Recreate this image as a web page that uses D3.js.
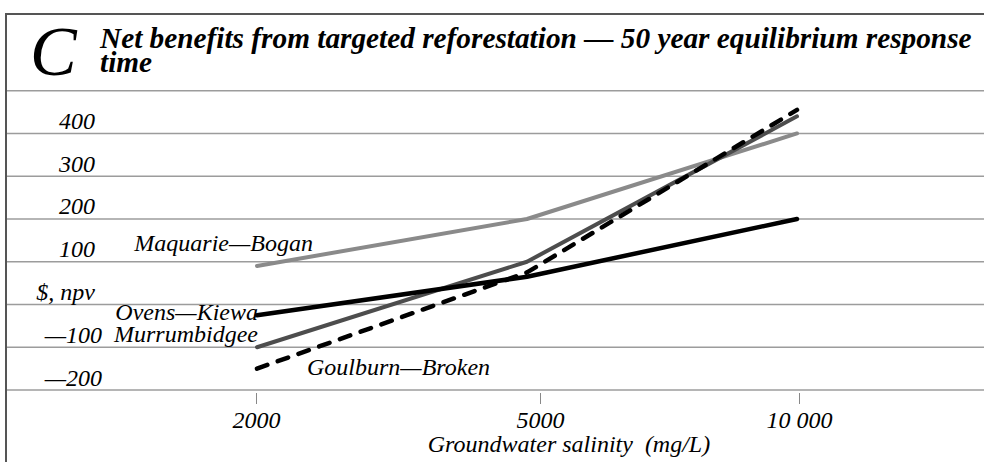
<!DOCTYPE html>
<html>
<head>
<meta charset="utf-8">
<script src="https://cdn.jsdelivr.net/npm/d3@7"></script>
<style>
  html, body { margin: 0; padding: 0; background: #fff; }
  svg { display: block; }
  text { font-family: "Liberation Serif", "Times New Roman", serif; font-style: italic; fill: #000; }
</style>
</head>
<body>
<div id="chart"></div>
<script>
// values
const salinity = ['2000', '5000', '10 000'];
const maquarieBogan = [90, 200, 400];
const ovensKiewa = [-25, 65, 200];
const murrumbidgee = [-100, 100, 440];
const goulburnBroken = [-150, 75, 455];
const gridValues = [500, 400, 300, 200, 100, 0, -100, -200];
const yTickValues = [400, 300, 200, 100, 0, -100, -200];
const yTickLabels = ['400', '300', '200', '100', '$, npv', '\u2014100', '\u2014200'];

const W = 984;
const H = 462;
const FS = 24;

const series = [
  { name: 'Maquarie\u2014Bogan', values: maquarieBogan, color: '#8a8a8a', width: 4, dash: null, lx: 56, ly: -15, anchor: 'end' },
  { name: 'Murrumbidgee', values: murrumbidgee, color: '#4d4d4d', width: 4, dash: null, lx: 1, ly: -5, anchor: 'end' },
  { name: 'Ovens\u2014Kiewa', values: ovensKiewa, color: '#000', width: 4.5, dash: null, lx: 1, ly: 5, anchor: 'end' },
  { name: 'Goulburn\u2014Broken', values: goulburnBroken, color: '#000', width: 4.5, dash: '11,11', lx: 50, ly: 6, anchor: 'start' },
];

const svg = d3.select('#chart').append('svg')
  .attr('width', W)
  .attr('height', H);

const x = d3.scalePoint().domain(salinity).range([257, 797]);
const xAxisScale = d3.scaleOrdinal().domain(salinity).range([256, 540, 799]);
const y = d3.scaleLinear().domain([-200, 500]).range([390, 90.7]);

// frame
svg.append('path')
  .attr('d', `M6,${H}V14H${W}`)
  .attr('fill', 'none')
  .attr('stroke', '#555')
  .attr('stroke-width', 2);

// gridlines
svg.append('g').selectAll('line')
  .data(gridValues)
  .join('line')
  .attr('x1', 7)
  .attr('x2', W)
  .attr('y1', (d) => y(d))
  .attr('y2', (d) => y(d))
  .attr('stroke', '#9c9c9c')
  .attr('stroke-width', 1.5);

// y labels sit just above their gridline
svg.append('g').selectAll('text')
  .data(yTickValues)
  .join('text')
  .attr('x', (d) => (d < 0 ? 102 : 95))
  .attr('y', (d) => y(d) - 4.5)
  .attr('text-anchor', 'end')
  .attr('font-size', FS)
  .text((d, i) => yTickLabels[i]);

// x axis ticks
const xAxis = d3.axisBottom(xAxisScale).tickSize(11).tickPadding(7);
const gx = svg.append('g')
  .attr('transform', `translate(0,${y(-200) + 3})`)
  .call(xAxis);
gx.select('.domain').remove();
gx.selectAll('.tick line').attr('stroke', '#888').attr('stroke-width', 1);
gx.selectAll('.tick text')
  .attr('font-size', FS)
  .attr('font-family', '"Liberation Serif", serif')
  .attr('font-style', 'italic')
  .attr('fill', '#000');

svg.append('text')
  .attr('x', 569)
  .attr('y', 452)
  .attr('text-anchor', 'middle')
  .attr('font-size', FS)
  .attr('xml:space', 'preserve')
  .text('Groundwater salinity  (mg/L)');

// series lines
const line = d3.line()
  .x((d, i) => x(salinity[i]))
  .y((d) => y(d));

svg.append('g').selectAll('path')
  .data(series)
  .join('path')
  .attr('d', (s) => line(s.values))
  .attr('fill', 'none')
  .attr('stroke', (s) => s.color)
  .attr('stroke-width', (s) => s.width)
  .attr('stroke-linecap', 'round')
  .attr('stroke-linejoin', 'round')
  .attr('stroke-dasharray', (s) => s.dash);

svg.append('g').selectAll('text')
  .data(series)
  .join('text')
  .attr('x', (s) => x(salinity[0]) + s.lx)
  .attr('y', (s) => y(s.values[0]) + s.ly)
  .attr('text-anchor', (s) => s.anchor)
  .attr('font-size', FS)
  .text((s) => s.name);

// title block
svg.append('text')
  .attr('x', 30)
  .attr('y', 75)
  .attr('font-size', 70)
  .text('C');

const title = svg.append('text')
  .attr('font-size', 29.3)
  .attr('font-weight', 'bold');
title.append('tspan').attr('x', 100).attr('y', 48)
  .text('Net benefits from targeted reforestation \u2014 50 year equilibrium response');
title.append('tspan').attr('x', 100).attr('y', 72).text('time');
</script>
</body>
</html>
